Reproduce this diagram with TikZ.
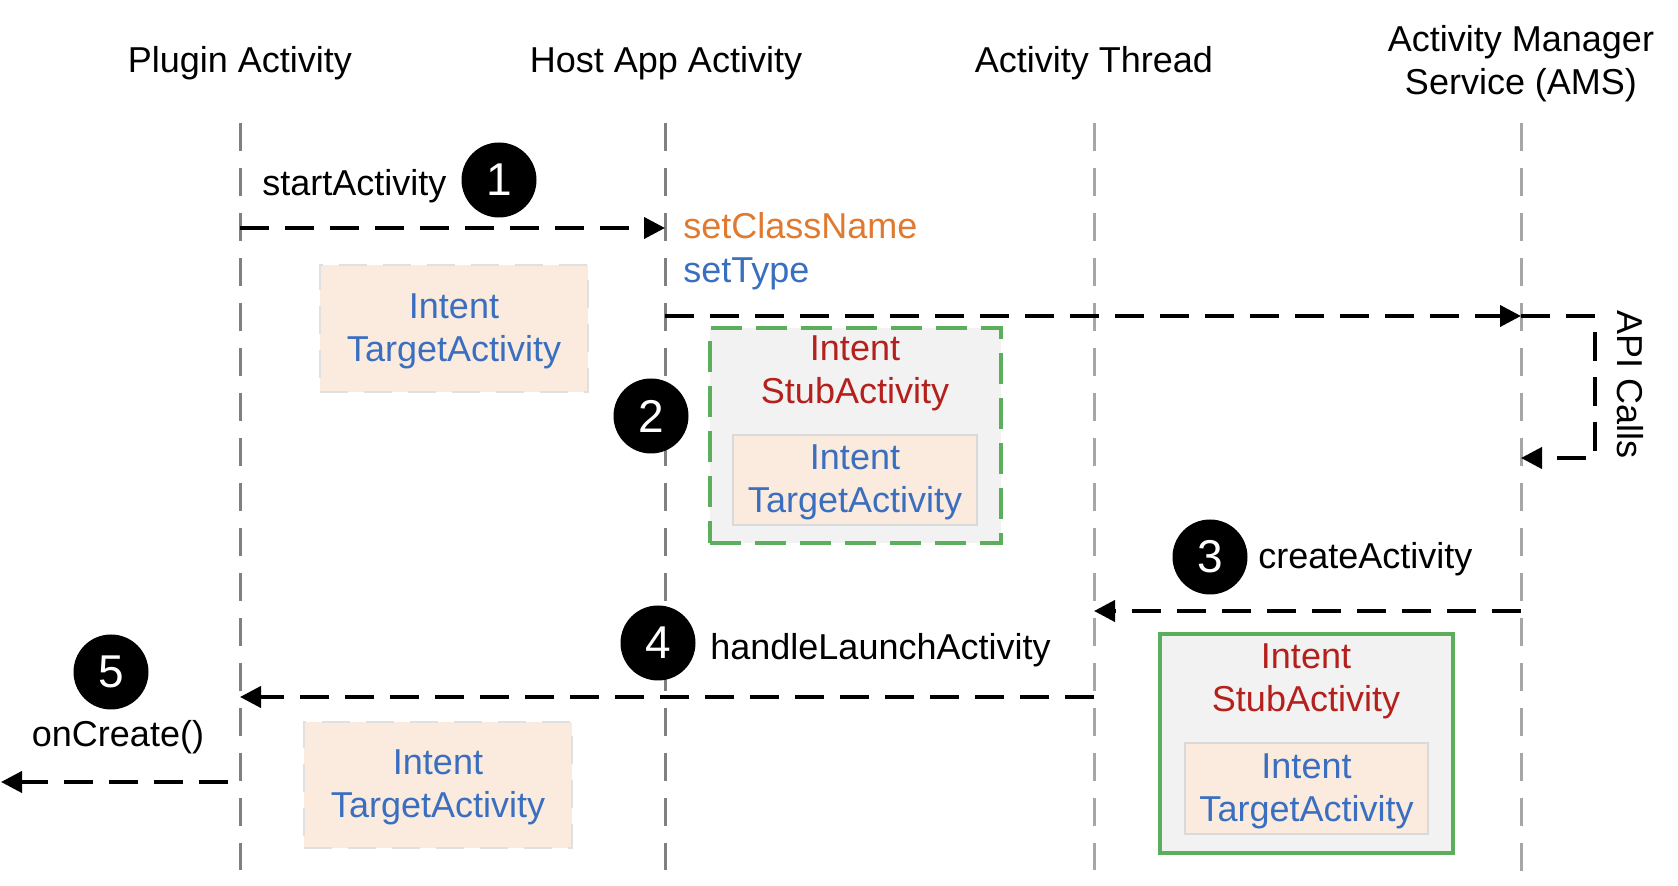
\documentclass[tikz,border=0pt]{standalone}
\usepackage{fontspec}
\setmainfont{Liberation Sans}
\usetikzlibrary{arrows.meta}
\definecolor{hintblue}{RGB}{58,111,191}
\definecolor{hintorange}{RGB}{224,122,48}
\definecolor{stubred}{RGB}{180,32,28}
\definecolor{boxpink}{RGB}{251,234,222}
\definecolor{boxgray}{RGB}{242,242,242}
\definecolor{boxgreen}{RGB}{92,174,92}
\definecolor{lifedark}{RGB}{128,128,128}
\definecolor{lifelight}{RGB}{166,166,166}
\begin{document}
\begin{tikzpicture}[x=0.5pt,y=-0.5pt]
  \tikzstyle{every node}=[font=\fontsize{18}{21.5}\selectfont,inner sep=0pt]
  \tikzstyle{lifeline}=[line width=1.5pt,dash pattern=on 14pt off 8.5pt]
  \tikzstyle{msg}=[line width=2pt,dash pattern=on 14.5pt off 8pt,-{Triangle[length=10.5pt,width=10.5pt]}]
  \tikzstyle{stepnum}=[circle,fill=black,text=white,minimum size=37.5pt,font=\fontsize{23}{27}\selectfont]
  \tikzstyle{intentbox}=[fill=boxpink,text=hintblue,align=center,text depth=1pt,draw=black!15,line width=0.75pt]
  \tikzstyle{stubbox}=[fill=boxgray,draw=boxgreen,line width=2.2pt]
  \tikzstyle{stubtext}=[text=stubred,align=center]
  \useasboundingbox (0,0) rectangle (1678,886);

  \node (pa) at (240,63) {Plugin Activity};
  \node (ha) at (666,63) {Host App Activity};
  \node (at) at (1094,63) {Activity Thread};
  \node[align=center] (ams) at (1521,64) {Activity Manager\\Service (AMS)};

  \coordinate (patop) at (240,123);  \coordinate (pabot) at (240,870);
  \coordinate (hatop) at (665,123);  \coordinate (habot) at (665,870);
  \coordinate (attop) at (1094,123); \coordinate (atbot) at (1094,870);
  \coordinate (amstop) at (1521,123); \coordinate (amsbot) at (1521,876);
  \draw[lifeline,lifedark] (patop) -- (pabot);
  \draw[lifeline,lifedark] (hatop) -- (habot);
  \draw[lifeline,lifelight] (attop) -- (atbot);
  \draw[lifeline,lifelight] (amstop) -- (amsbot);

  \node[intentbox,dash pattern=on 14pt off 8pt,draw=black!12,minimum width=134pt,minimum height=63.5pt] (tgt1) at (454,328.5) {Intent\\TargetActivity};
  \node[stubbox,dash pattern=on 15.5pt off 7pt,minimum width=145.5pt,minimum height=107.5pt] (stub1) at (855.5,435.5) {};
  \node[stubtext] (stub1t) at (855,373) {Intent\\StubActivity};
  \node[intentbox,minimum width=122pt,minimum height=45pt] (tgt2) at (855,480) {Intent\\TargetActivity};
  \node[stubbox,minimum width=146.5pt,minimum height=109.5pt] (stub2) at (1306.5,743.5) {};
  \node[stubtext] (stub2t) at (1306,681) {Intent\\StubActivity};
  \node[intentbox,minimum width=121.5pt,minimum height=45.5pt] (tgt3) at (1306.5,788.5) {Intent\\TargetActivity};
  \node[intentbox,dash pattern=on 14pt off 8pt,draw=black!12,minimum width=134pt,minimum height=63pt] (tgt4) at (438,785) {Intent\\TargetActivity};

  \coordinate (m1a) at (240,228);  \coordinate (m1b) at (665,228);
  \coordinate (m2a) at (665,316);  \coordinate (m2b) at (1521,316);
  \coordinate (api1) at (1595,316); \coordinate (api2) at (1595,458);
  \coordinate (m2c) at (1521,458);
  \coordinate (m3a) at (1521,611); \coordinate (m3b) at (1094,611);
  \coordinate (m4a) at (1094,697); \coordinate (m4b) at (240,697);
  \coordinate (m5a) at (228,782);  \coordinate (m5b) at (1,782);
  \draw[msg] (m1a) -- (m1b);
  \draw[msg] (m2a) -- (m2b);
  \draw[msg] (m2b) -- (api1) -- (api2) -- (m2c);
  \draw[msg] (m3a) -- (m3b);
  \draw[msg] (m4a) -- (m4b);
  \draw[msg] (m5a) -- (m5b);

  \node[anchor=west] (start) at (262,186) {startActivity};
  \node[anchor=west,text=hintorange] (setcls) at (683,226) {setClassName};
  \node[anchor=west,text=hintblue] (settype) at (683,274) {setType};
  \node[rotate=-90] (api) at (1630,385) {API Calls};
  \node[anchor=west] (create) at (1258,559) {createActivity};
  \node[anchor=west] (launch) at (710,650) {handleLaunchActivity};
  \node (oncreate) at (118,737) {onCreate()};

  \node[stepnum] (s1) at (499,180) {1};
  \node[stepnum] (s2) at (651,416) {2};
  \node[stepnum] (s3) at (1210,557) {3};
  \node[stepnum] (s4) at (658,643) {4};
  \node[stepnum] (s5) at (111,672) {5};
\end{tikzpicture}
\end{document}
